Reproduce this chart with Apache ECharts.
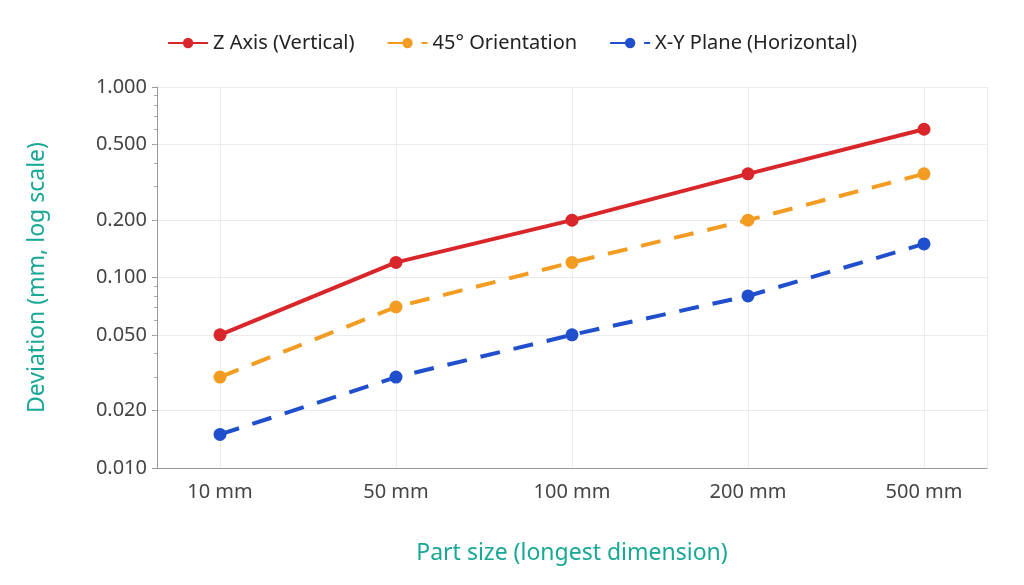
<!DOCTYPE html>
<html>
<head>
<meta charset="utf-8">
<script src="https://cdn.jsdelivr.net/npm/echarts@6/dist/echarts.min.js"></script>
<style>html,body{margin:0;background:#fff}#chart{width:1024px;height:585px}</style>
</head>
<body>
<div id="chart"></div>
<script>
const categories = ['10 mm', '50 mm', '100 mm', '200 mm', '500 mm']
const zAxis = [0.05, 0.12, 0.2, 0.35, 0.6]
const diagonal = [0.03, 0.07, 0.12, 0.2, 0.35]
const xyPlane = [0.015, 0.03, 0.05, 0.08, 0.15]
const yTicks = [0.01, 0.02, 0.05, 0.1, 0.2, 0.5, 1]

const font = 'Noto Sans'
const chart = echarts.init(document.getElementById('chart'))

const toPts = arr => arr.map((v, i) => [i, v])
const mkSeries = (name, data, color, dashed) => ({
    name,
    type: 'line',
    data: toPts(data),
    symbol: 'circle',
    symbolSize: 13,
    itemStyle: { color },
    lineStyle: { color, width: 4, type: dashed ? [20, 14] : 'solid' }
})

chart.setOption({
    animation: false,
    textStyle: { fontFamily: font },
    legend: {
        top: 28,
        left: 'center',
        itemWidth: 40,
        itemHeight: 13,
        itemGap: 32,
        textStyle: { fontSize: 20, color: '#222', fontFamily: font }
    },
    grid: { left: 157, right: 37, top: 87, bottom: 117 },
    xAxis: {
        type: 'value',
        min: -0.358,
        max: 4.358,
        axisLine: { show: true, onZero: false, lineStyle: { color: '#999' } },
        axisTick: { show: false },
        axisLabel: {
            customValues: [0, 1, 2, 3, 4],
            formatter: v => categories[Math.round(v)],
            fontSize: 20, color: '#444', margin: 14, fontFamily: font
        },
        splitLine: { show: true, lineStyle: { color: '#ebebeb' } },
        name: 'Part size (longest dimension)',
        nameLocation: 'middle',
        nameGap: 74,
        nameTextStyle: { fontSize: 23, color: '#19a896', fontFamily: font }
    },
    yAxis: {
        type: 'log',
        logBase: 10,
        min: 0.01,
        max: 1,
        axisLine: { show: true, onZero: false, lineStyle: { color: '#999' } },
        axisTick: { show: true, customValues: yTicks, lineStyle: { color: '#999' } },
        minorTick: { show: true, splitNumber: 9, length: 3, lineStyle: { color: '#aaa' } },
        axisLabel: {
            customValues: yTicks,
            formatter: v => Number(v).toFixed(3),
            fontSize: 20, color: '#444', margin: 10, fontFamily: font
        },
        splitLine: { show: true, lineStyle: { color: '#ebebeb' } },
        name: 'Deviation (mm, log scale)',
        nameLocation: 'middle',
        nameGap: 108,
        nameTextStyle: { fontSize: 23, color: '#19a896', fontFamily: font }
    },
    series: [
        mkSeries('Z Axis (Vertical)', zAxis, '#d9262a', false),
        mkSeries('45° Orientation', diagonal, '#f39c22', true),
        mkSeries('X-Y Plane (Horizontal)', xyPlane, '#1f4fcc', true)
    ]
})
</script>
</body>
</html>
